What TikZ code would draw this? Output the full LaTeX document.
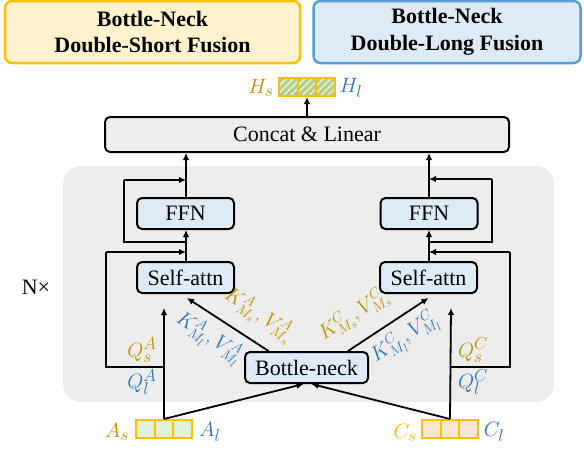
\documentclass[tikz,border=0pt]{standalone}
\usepackage{fontspec}
\setmainfont{Liberation Serif}
\usetikzlibrary{arrows.meta}
\DeclareMathSizes{20}{20}{15.5}{12.5}
\DeclareMathSizes{22}{22}{16.5}{13}
\definecolor{gold}{HTML}{BF9000}
\definecolor{yel}{HTML}{F5B800}
\definecolor{orng}{HTML}{FFC000}
\definecolor{lblue}{HTML}{2E75B6}
\definecolor{boxblue}{HTML}{DEEBF7}
\definecolor{titley}{HTML}{FFF2CC}
\definecolor{titleb}{HTML}{5B9BD5}
\definecolor{panel}{HTML}{EDEDED}
\definecolor{cgreen}{HTML}{E2EFDA}
\definecolor{cpeach}{HTML}{FBE5D6}
\definecolor{hgreen}{HTML}{A9D18E}
\definecolor{hbeige}{HTML}{EFE6CC}
\begin{document}
\begin{tikzpicture}[x=1pt,y=-1pt,
  txt/.style={font=\fontsize{22}{25}\selectfont},
  blk/.style={draw=black, line width=2pt, rounded corners=5pt, fill=boxblue,
    minimum width=97pt, minimum height=31pt, inner sep=0pt, txt},
  ttl/.style={line width=2.5pt, rounded corners=7pt, minimum height=62pt,
    inner sep=0pt, align=center, font=\fontsize{22}{27}\selectfont\bfseries},
  cell/.style={draw=orng, line width=2pt, minimum width=18.6pt, minimum height=18pt, inner sep=0pt},
  hcell/.style={cell, fill=hgreen, path picture={
     \foreach \i in {-24,-17,...,24}
       \draw[hbeige, line width=1.8pt] ([xshift=\i pt]path picture bounding box.south west) -- ++(24pt,24pt);}},
  lbl/.style={font=\fontsize{22}{24}\selectfont, inner sep=0pt},
  dlbl/.style={font=\fontsize{20}{22}\selectfont, inner sep=0pt},
  ln/.style={line width=1.8pt, black},
  arr/.style={ln, -{Latex[length=7pt,width=6.5pt]}}
]
\useasboundingbox (0,0) rectangle (584,450);

% title boxes
\node[ttl, draw=orng, fill=titley, minimum width=295pt] (tl) at (152.5,32) {Bottle-Neck\\Double-Short Fusion};
\node[ttl, draw=titleb, fill=boxblue, minimum width=267pt] (tr) at (447,32) {Bottle-Neck\\Double-Long Fusion};

% background panel
\fill[panel, rounded corners=18pt] (63,166) rectangle (554,402);

% concat
\node[blk, fill=panel, minimum width=404pt, minimum height=35pt] (cat) at (307,134.5) {Concat \& Linear};

% H array
\node[hcell] (h1) at (288.4,87) {};
\node[hcell] (h2) at (307,87) {};
\node[hcell] (h3) at (325.6,87) {};
\node[lbl, text=gold] (hs) at (261,88) {$H_s$};
\node[lbl, text=lblue] (hl) at (351,88) {$H_l$};

% blocks
\node[blk] (ffnL) at (185.5,213.5) {FFN};
\node[blk] (ffnR) at (429,213.5) {FFN};
\node[blk] (saL) at (185.5,277.5) {Self-attn};
\node[blk] (saR) at (428.5,277.5) {Self-attn};
\node[blk, minimum width=123pt] (bn) at (306.5,367.5) {Bottle-neck};

% A and C arrays
\node[cell, fill=cgreen] (a1) at (145.4,429) {};
\node[cell, fill=cgreen] (a2) at (164,429) {};
\node[cell, fill=cgreen] (a3) at (182.6,429) {};
\node[cell, fill=cpeach] (c1) at (431.4,429) {};
\node[cell, fill=cpeach] (c2) at (450,429) {};
\node[cell, fill=cpeach] (c3) at (468.6,429) {};
\node[lbl, text=gold] (as) at (117,432) {$A_s$};
\node[lbl, text=lblue] (al) at (210,432) {$A_l$};
\node[lbl, text=yel] (cs) at (405,433) {$C_s$};
\node[lbl, text=lblue] (cl) at (494,432) {$C_l$};

\node[txt] (nx) at (36,287) {N×};

% coordinates
\coordinate (qLt) at (164,308);
\coordinate (qLj) at (164,367);
\coordinate (qLc) at (106,367);
\coordinate (rLa) at (106,252);
\coordinate (mLa) at (186,252);
\coordinate (fLs) at (186,242);
\coordinate (fLc) at (124,242);
\coordinate (fLu) at (124,180);
\coordinate (mLb) at (186,180);

\coordinate (qRt) at (451,308);
\coordinate (qRj) at (451,367);
\coordinate (qRc) at (510,367);
\coordinate (rRa) at (510,252);
\coordinate (mRa) at (429,252);
\coordinate (fRs) at (429,242);
\coordinate (fRc) at (492,242);
\coordinate (fRu) at (492,179);
\coordinate (mRb) at (429,179);

% left column
\draw[arr] (a2.north) -- (qLt);
\draw[ln] (qLj) -- (qLc) -- (rLa);
\draw[arr] (rLa) -- (mLa);
\draw[arr] (saL.north -| mLa) -- (ffnL.south -| mLa);
\draw[ln] (fLs) -- (fLc) -- (fLu);
\draw[arr] (fLu) -- (mLb);
\draw[arr] (ffnL.north -| mLa) -- (cat.south -| mLa);

% right column
\draw[arr] (c2.north) -- (qRt);
\draw[ln] (qRj) -- (qRc) -- (rRa);
\draw[arr] (rRa) -- (mRa);
\draw[arr] (saR.north -| mRa) -- (ffnR.south -| mRa);
\draw[ln] (fRs) -- (fRc) -- (fRu);
\draw[arr] (fRu) -- (mRb);
\draw[arr] (ffnR.north -| mRa) -- (cat.south -| mRa);

% to H
\draw[arr] (cat.north) -- (h2.south);

% bottle-neck
\draw[arr] (a2.north) -- ([xshift=-3pt]bn.south);
\draw[arr] (c2.north) -- ([xshift=5pt]bn.south);
\draw[arr] ([xshift=-38pt]bn.north) -- ([shift={(1.5pt,-4pt)}]saL.south);
\draw[arr] ([xshift=41.5pt]bn.north) -- ([shift={(0pt,-4pt)}]saR.south);

% labels
\node[lbl, text=gold] (qsA) at (142,350) {$Q_s^A$};
\node[lbl, text=lblue] (qlA) at (142,382) {$Q_l^A$};
\node[lbl, text=gold] (qsC) at (473,350) {$Q_s^C$};
\node[lbl, text=lblue] (qlC) at (473,382) {$Q_l^C$};

\node[dlbl, text=gold, rotate=-33] (kvsA) at (259,315) {$K^A_{M_s}, V^A_{M_s}$};
\node[dlbl, text=lblue, rotate=-33] (kvlA) at (209,338) {$K^A_{M_l}, V^A_{M_l}$};
\node[dlbl, text=gold, rotate=33] (kvsC) at (354,315) {$K^C_{M_s}, V^C_{M_s}$};
\node[dlbl, text=lblue, rotate=33] (kvlC) at (405,338) {$K^C_{M_l}, V^C_{M_l}$};
\end{tikzpicture}
\end{document}
